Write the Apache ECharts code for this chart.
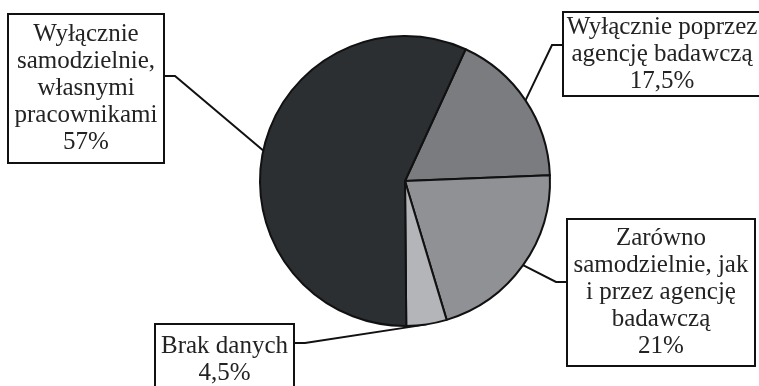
<!DOCTYPE html>
<html>
<head>
<meta charset="utf-8">
<script src="https://cdn.jsdelivr.net/npm/echarts@6/dist/echarts.min.js"></script>
<style>
  html, body { margin: 0; padding: 0; background: #fff; }
  #chart { width: 759px; height: 386px; }
</style>
</head>
<body>
<div id="chart"></div>
<script>
"use strict";

// slice order goes clockwise from the top-right boundary
var names = [
  "Wyłącznie poprzez\nagencję badawczą",
  "Zarówno\nsamodzielnie, jak\ni przez agencję\nbadawczą",
  "Brak danych",
  "Wyłącznie\nsamodzielnie,\nwłasnymi\npracownikami"
];
var values = [17.5, 21, 4.5, 57];
var valueLabels = ["17,5%", "21%", "4,5%", "57%"];
var colors = ["#7b7c80", "#909195", "#b4b5b9", "#2c2f32"];

// label boxes: left, top, width, height, elbow y, side of the pie
var boxes = [
  {left: 564, top: 13, w: 196, h: 82, elbowY: 45, side: "right"},
  {left: 568, top: 220, w: 186, h: 145, elbowY: 282, side: "right"},
  {left: 156, top: 325, w: 137, h: 70, elbowY: 343, side: "left"},
  {left: 9, top: 15, w: 154, h: 147, elbowY: 76, side: "left"}
];

var chart = echarts.init(document.getElementById("chart"));

var data = values.map(function (v, i) {
  return {
    value: v,
    name: names[i],
    itemStyle: {color: colors[i]},
    label: {
      width: boxes[i].w,
      height: boxes[i].h
    }
  };
});

var option = {
  animation: false,
  series: [{
    type: "pie",
    center: [405, 181],
    radius: 145,
    startAngle: 65.3,
    data: data,
    itemStyle: {
      borderColor: "#111",
      borderWidth: 2
    },
    label: {
      show: true,
      position: "outside",
      formatter: function (p) {
        return p.name + "\n" + valueLabels[p.dataIndex];
      },
      fontFamily: "Liberation Serif",
      fontSize: 25,
      lineHeight: 27,
      color: "#232323",
      align: "center",
      verticalAlign: "middle",
      backgroundColor: "#fff",
      borderColor: "#111",
      borderWidth: 2,
      padding: 0
    },
    labelLine: {
      show: true,
      length: 10,
      length2: 10,
      lineStyle: {color: "#111", width: 2}
    },
    labelLayout: function (params) {
      var b = boxes[params.dataIndex];
      var start = params.labelLinePoints ? params.labelLinePoints[0] : null;
      var edgeX = b.side === "right" ? b.left : b.left + b.w;
      var elbowX = b.side === "right" ? edgeX - 12 : edgeX + 12;
      var out = {
        x: b.left + b.w / 2,
        y: b.top + b.h / 2,
        align: "center",
        verticalAlign: "middle"
      };
      if (start) {
        out.labelLinePoints = [start, [elbowX, b.elbowY], [edgeX, b.elbowY]];
      }
      return out;
    }
  }]
};

chart.setOption(option);
</script>
</body>
</html>
